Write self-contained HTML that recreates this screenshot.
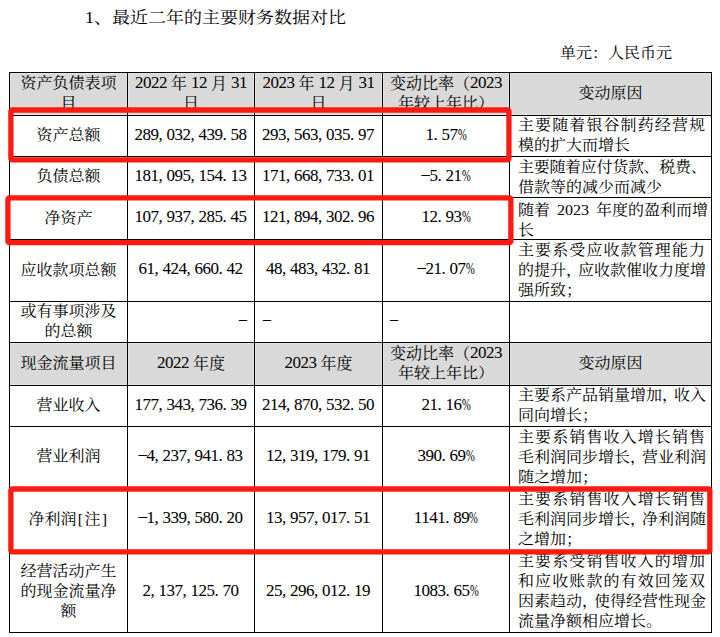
<!DOCTYPE html>
<html lang="zh-CN"><head><meta charset="utf-8"><title>主要财务数据对比</title>
<style>
html,body{margin:0;padding:0;background:#fff;}
body{width:720px;height:637px;overflow:hidden;position:relative;font-family:'Liberation Serif','Noto Serif CJK SC',serif;color:#000;}
.t{position:absolute;white-space:nowrap;line-height:20px;font-size:16px;}
.c{position:absolute;display:flex;flex-direction:column;justify-content:center;align-items:center;line-height:20px;font-size:16px;white-space:nowrap;}
.c div{white-space:nowrap;height:20px;}
.l{position:absolute;left:518px;width:187px;line-height:20px;height:20px;font-size:16px;white-space:nowrap;}
.j{text-align:justify;text-align-last:justify;}
.hl{position:absolute;background:#000;height:1px;}
.vl{position:absolute;background:#000;width:1px;}
.g{position:absolute;background:#d9d9d9;border:1px solid #e4e4e4;box-sizing:border-box;}
.rb{position:absolute;border:5px solid #fe1a10;border-radius:5px;box-sizing:border-box;}
.p{letter-spacing:3.75px;}
.pc{display:inline-block;width:8px;transform:scaleX(0.62);transform-origin:0 0;}
.mn{display:inline-block;width:8px;position:relative;top:-2px;}
.nm{position:relative;top:-1.5px;left:-0.5px;font-size:17px;letter-spacing:-0.5px;-webkit-text-stroke:0.05px #000;}
.hd{font-size:17px;letter-spacing:-0.5px;position:relative;top:-1px;}
.br{display:inline-block;width:8px;text-align:center;}
.sp{letter-spacing:3px;}
.k{transform:translateY(-1px) scaleY(0.9);}
.t.k{transform:scaleY(0.9);}
.cp{letter-spacing:-4px;}
.nj{letter-spacing:-0.3px;}
</style></head><body>

<div class="t k" style="left:85px;top:6px;font-size:18px;line-height:24px;">1、最近二年的主要财务数据对比</div>
<div class="t k" style="left:560px;top:43px;">单元：人民币元</div>
<div class="g" style="left:10px;top:73px;width:117px;height:42px;"></div>
<div class="g" style="left:128px;top:73px;width:126px;height:42px;"></div>
<div class="g" style="left:255px;top:73px;width:127px;height:42px;"></div>
<div class="g" style="left:383px;top:73px;width:126px;height:42px;"></div>
<div class="g" style="left:510px;top:73px;width:201px;height:42px;"></div>
<div class="g" style="left:10px;top:343px;width:117px;height:42px;"></div>
<div class="g" style="left:128px;top:343px;width:126px;height:42px;"></div>
<div class="g" style="left:255px;top:343px;width:127px;height:42px;"></div>
<div class="g" style="left:383px;top:343px;width:126px;height:42px;"></div>
<div class="g" style="left:510px;top:343px;width:201px;height:42px;"></div>
<div class="c" style="left:10px;top:73px;width:117px;height:42px;"><div class="k">资产负债表项</div><div class="k">目</div></div>
<div class="c" style="left:128px;top:73px;width:126px;height:42px;"><div><span class="hd">2022</span> 年 <span class="hd">12</span> 月 <span class="hd">31</span></div><div class="k">日</div></div>
<div class="c" style="left:255px;top:73px;width:127px;height:42px;"><div><span class="hd">2023</span> 年 <span class="hd">12</span> 月 <span class="hd">31</span></div><div class="k">日</div></div>
<div class="c" style="left:383px;top:73px;width:126px;height:42px;"><div>变动比率（<span class="hd">2023</span></div><div class="k">年较上年比）</div></div>
<div class="c" style="left:510px;top:73px;width:201px;height:42px;"><div class="k">变动原因</div></div>
<div class="c" style="left:10px;top:343px;width:117px;height:42px;"><div class="k">现金流量项目</div></div>
<div class="c" style="left:128px;top:343px;width:126px;height:42px;"><div><span class="hd">2022</span> 年度</div></div>
<div class="c" style="left:255px;top:343px;width:127px;height:42px;"><div><span class="hd">2023</span> 年度</div></div>
<div class="c" style="left:383px;top:343px;width:126px;height:42px;"><div>变动比率（<span class="hd">2023</span></div><div class="k">年较上年比）</div></div>
<div class="c" style="left:510px;top:343px;width:201px;height:42px;"><div class="k">变动原因</div></div>
<div class="c" style="left:10px;top:116px;width:117px;height:40px;"><div class="k">资产总额</div></div>
<div class="c" style="left:128px;top:116px;width:126px;height:40px;"><div><span class="nm">289<span class="p">,</span>032<span class="p">,</span>439<span class="p">.</span>58</span></div></div>
<div class="c" style="left:255px;top:116px;width:127px;height:40px;"><div><span class="nm">293<span class="p">,</span>563<span class="p">,</span>035<span class="p">.</span>97</span></div></div>
<div class="c" style="left:383px;top:116px;width:126px;height:40px;"><div><span class="nm">1<span class="p">.</span>57<span class="pc">%</span></span></div></div>
<div class="c" style="left:10px;top:157px;width:117px;height:40px;"><div class="k">负债总额</div></div>
<div class="c" style="left:128px;top:157px;width:126px;height:40px;"><div><span class="nm">181<span class="p">,</span>095<span class="p">,</span>154<span class="p">.</span>13</span></div></div>
<div class="c" style="left:255px;top:157px;width:127px;height:40px;"><div><span class="nm">171<span class="p">,</span>668<span class="p">,</span>733<span class="p">.</span>01</span></div></div>
<div class="c" style="left:383px;top:157px;width:126px;height:40px;"><div><span class="nm"><span class="mn">&#8211;</span>5<span class="p">.</span>21<span class="pc">%</span></span></div></div>
<div class="c" style="left:10px;top:198px;width:117px;height:41px;"><div class="k">净资产</div></div>
<div class="c" style="left:128px;top:198px;width:126px;height:41px;"><div><span class="nm">107<span class="p">,</span>937<span class="p">,</span>285<span class="p">.</span>45</span></div></div>
<div class="c" style="left:255px;top:198px;width:127px;height:41px;"><div><span class="nm">121<span class="p">,</span>894<span class="p">,</span>302<span class="p">.</span>96</span></div></div>
<div class="c" style="left:383px;top:198px;width:126px;height:41px;"><div><span class="nm">12<span class="p">.</span>93<span class="pc">%</span></span></div></div>
<div class="c" style="left:10px;top:240px;width:117px;height:61px;"><div class="k">应收款项总额</div></div>
<div class="c" style="left:128px;top:240px;width:126px;height:61px;"><div><span class="nm">61<span class="p">,</span>424<span class="p">,</span>660<span class="p">.</span>42</span></div></div>
<div class="c" style="left:255px;top:240px;width:127px;height:61px;"><div><span class="nm">48<span class="p">,</span>483<span class="p">,</span>432<span class="p">.</span>81</span></div></div>
<div class="c" style="left:383px;top:240px;width:126px;height:61px;"><div><span class="nm"><span class="mn">&#8211;</span>21<span class="p">.</span>07<span class="pc">%</span></span></div></div>
<div class="c" style="left:10px;top:302px;width:117px;height:40px;"><div class="k">或有事项涉及</div><div class="k">的总额</div></div>
<div class="c" style="left:10px;top:386px;width:117px;height:40px;"><div class="k">营业收入</div></div>
<div class="c" style="left:128px;top:386px;width:126px;height:40px;"><div><span class="nm">177<span class="p">,</span>343<span class="p">,</span>736<span class="p">.</span>39</span></div></div>
<div class="c" style="left:255px;top:386px;width:127px;height:40px;"><div><span class="nm">214<span class="p">,</span>870<span class="p">,</span>532<span class="p">.</span>50</span></div></div>
<div class="c" style="left:383px;top:386px;width:126px;height:40px;"><div><span class="nm">21<span class="p">.</span>16<span class="pc">%</span></span></div></div>
<div class="c" style="left:10px;top:427px;width:117px;height:60px;"><div class="k">营业利润</div></div>
<div class="c" style="left:128px;top:427px;width:126px;height:60px;"><div><span class="nm"><span class="mn">&#8211;</span>4<span class="p">,</span>237<span class="p">,</span>941<span class="p">.</span>83</span></div></div>
<div class="c" style="left:255px;top:427px;width:127px;height:60px;"><div><span class="nm">12<span class="p">,</span>319<span class="p">,</span>179<span class="p">.</span>91</span></div></div>
<div class="c" style="left:383px;top:427px;width:126px;height:60px;"><div><span class="nm">390<span class="p">.</span>69<span class="pc">%</span></span></div></div>
<div class="c" style="left:10px;top:488px;width:117px;height:63px;"><div class="k">净利润<span class="br">[</span>注<span class="br">]</span></div></div>
<div class="c" style="left:128px;top:488px;width:126px;height:63px;"><div><span class="nm"><span class="mn">&#8211;</span>1<span class="p">,</span>339<span class="p">,</span>580<span class="p">.</span>20</span></div></div>
<div class="c" style="left:255px;top:488px;width:127px;height:63px;"><div><span class="nm">13<span class="p">,</span>957<span class="p">,</span>017<span class="p">.</span>51</span></div></div>
<div class="c" style="left:383px;top:488px;width:126px;height:63px;"><div><span class="nm">1141<span class="p">.</span>89<span class="pc">%</span></span></div></div>
<div class="c" style="left:10px;top:552px;width:117px;height:80px;"><div class="k">经营活动产生</div><div class="k">的现金流量净</div><div class="k">额</div></div>
<div class="c" style="left:128px;top:552px;width:126px;height:80px;"><div><span class="nm">2<span class="p">,</span>137<span class="p">,</span>125<span class="p">.</span>70</span></div></div>
<div class="c" style="left:255px;top:552px;width:127px;height:80px;"><div><span class="nm">25<span class="p">,</span>296<span class="p">,</span>012<span class="p">.</span>19</span></div></div>
<div class="c" style="left:383px;top:552px;width:126px;height:80px;"><div><span class="nm">1083<span class="p">.</span>65<span class="pc">%</span></span></div></div>
<div class="t" style="left:239px;top:309px;">&#8211;</div>
<div class="t" style="left:263px;top:309px;">&#8211;</div>
<div class="t" style="left:390px;top:309px;">&#8211;</div>
<div class="l j k" style="top:116.0px;">主要随着银谷制药经营规</div>
<div class="l k" style="top:136.0px;">模的扩大而增长</div>
<div class="l j k" style="top:158.4px;"><span class="nj">主要随着应付货款、税费、</span></div>
<div class="l k" style="top:178.4px;">借款等的减少而减少</div>
<div class="l j k" style="top:200.9px;">随着<span class="sp"> </span>2023<span class="sp"> </span>年度的盈利而增</div>
<div class="l k" style="top:220.9px;">长</div>
<div class="l j k" style="top:241.0px;">主要系受应收款管理能力</div>
<div class="l j k" style="top:261.0px;">的提升<span class="cp">，</span>应收款催收力度增</div>
<div class="l k" style="top:281.0px;">强所致；</div>
<div class="l j k" style="top:386.0px;">主要系产品销量增加<span class="cp">，</span>收入</div>
<div class="l k" style="top:406.0px;">同向增长；</div>
<div class="l j k" style="top:427.8px;">主要系销售收入增长销售</div>
<div class="l j k" style="top:447.8px;">毛利润同步增长<span class="cp">，</span>营业利润</div>
<div class="l k" style="top:467.8px;">随之增加；</div>
<div class="l j k" style="top:489.9px;">主要系销售收入增长销售</div>
<div class="l j k" style="top:509.9px;">毛利润同步增长<span class="cp">，</span>净利润随</div>
<div class="l k" style="top:529.9px;">之增加；</div>
<div class="l j k" style="top:552.1px;">主要系受销售收入的增加</div>
<div class="l j k" style="top:572.1px;">和应收账款的有效回笼双</div>
<div class="l j k" style="top:592.1px;">因素趋动<span class="cp">，</span>使得经营性现金</div>
<div class="l k" style="top:612.1px;">流量净额相应增长。</div>
<div class="hl" style="left:9px;top:72px;width:703px;"></div>
<div class="hl" style="left:9px;top:115px;width:703px;"></div>
<div class="hl" style="left:9px;top:156px;width:703px;"></div>
<div class="hl" style="left:9px;top:197px;width:703px;"></div>
<div class="hl" style="left:9px;top:239px;width:703px;"></div>
<div class="hl" style="left:9px;top:301px;width:703px;"></div>
<div class="hl" style="left:9px;top:342px;width:703px;"></div>
<div class="hl" style="left:9px;top:385px;width:703px;"></div>
<div class="hl" style="left:9px;top:426px;width:703px;"></div>
<div class="hl" style="left:9px;top:487px;width:703px;"></div>
<div class="hl" style="left:9px;top:551px;width:703px;"></div>
<div class="hl" style="left:9px;top:632px;width:703px;"></div>
<div class="vl" style="left:9px;top:72px;height:561px;"></div>
<div class="vl" style="left:127px;top:72px;height:561px;"></div>
<div class="vl" style="left:254px;top:72px;height:561px;"></div>
<div class="vl" style="left:382px;top:72px;height:561px;"></div>
<div class="vl" style="left:509px;top:72px;height:561px;"></div>
<div class="vl" style="left:711px;top:72px;height:561px;"></div>
<svg width="720" height="637" viewBox="0 0 720 637" style="position:absolute;left:0;top:0;"><rect x="10.875" y="110.000" width="498.055" height="49.875" rx="1.5" ry="1.5" fill="none" stroke="#fe1a10" stroke-width="5.3"/><rect x="7.925" y="197.925" width="502.950" height="44.700" rx="1.5" ry="1.5" fill="none" stroke="#fe1a10" stroke-width="5.3"/><rect x="10.875" y="489.000" width="698.975" height="62.875" rx="1.5" ry="1.5" fill="none" stroke="#fe1a10" stroke-width="5.3"/></svg>
</body></html>
